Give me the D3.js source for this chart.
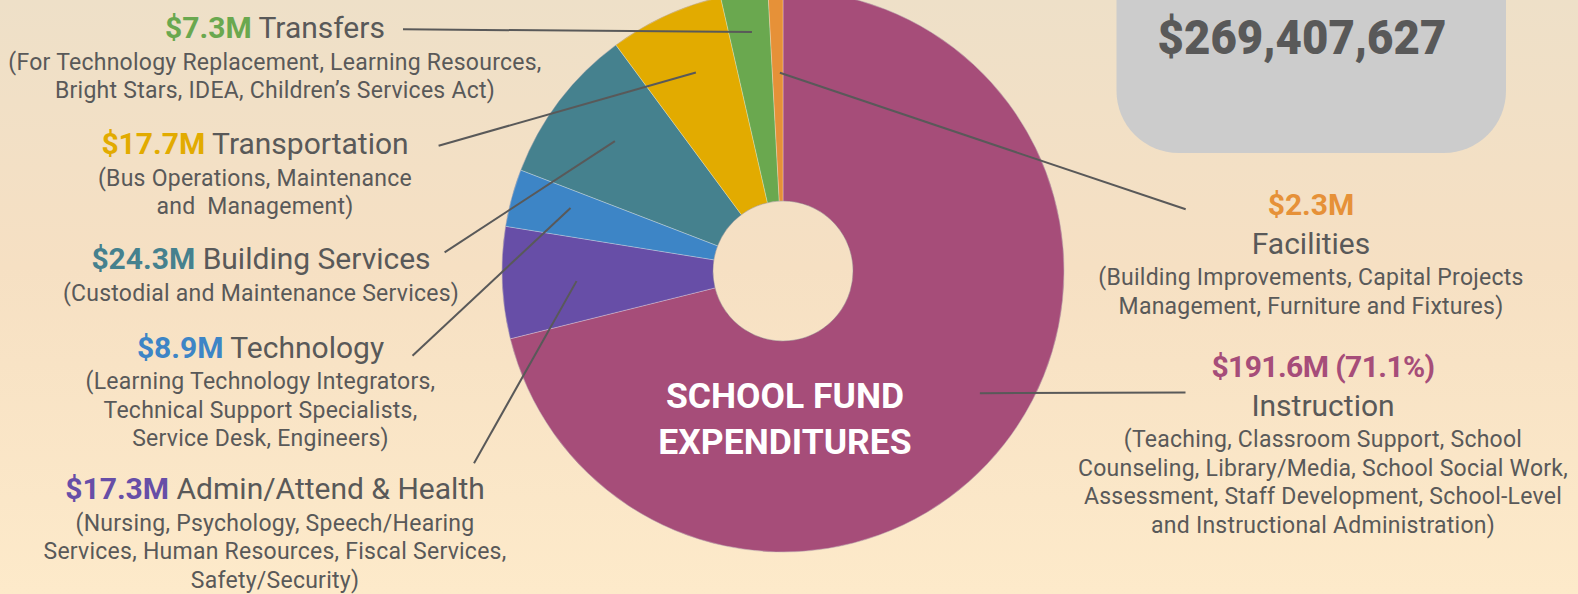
<!DOCTYPE html>
<html>
<head>
<meta charset="utf-8">
<script src="https://cdn.jsdelivr.net/npm/d3@7"></script>
<style>
  html, body { margin: 0; padding: 0; overflow: hidden; background: #f5e2c6; }
  svg { display: block; font-family: Roboto, "Noto Sans", sans-serif; }
  text { white-space: pre; }
</style>
</head>
<body>
<svg id="chart" width="1578" height="594"></svg>
<script>
// ---- School fund expenditures, in millions of dollars (pie order: clockwise from 12 o'clock)
const categories = [
  "Instruction",
  "Admin/Attend & Health",
  "Technology",
  "Building Services",
  "Transportation",
  "Transfers",
  "Facilities"
];
const amounts = [191.6, 17.3, 8.9, 24.3, 17.7, 7.3, 2.3];
const sliceColors = ["#a64d79", "#674ea7", "#3d85c6", "#45818e", "#e2ab00", "#6aa84f", "#e69138"];
const descriptions = [
  ["(Teaching, Classroom Support, School", "Counseling, Library/Media, School Social Work,", "Assessment, Staff Development, School-Level", "and Instructional Administration)"],
  ["(Nursing, Psychology, Speech/Hearing", "Services, Human Resources, Fiscal Services,", "Safety/Security)"],
  ["(Learning Technology Integrators,", "Technical Support Specialists,", "Service Desk, Engineers)"],
  ["(Custodial and Maintenance Services)"],
  ["(Bus Operations, Maintenance", "and  Management)"],
  ["(For Technology Replacement, Learning Resources,", "Bright Stars, IDEA, Children\u2019s Services Act)"],
  ["(Building Improvements, Capital Projects", "Management, Furniture and Fixtures)"]
];
const totalBudget = 269407627;
const centerTitle = ["SCHOOL FUND", "EXPENDITURES"];

// ---- Layout
const W = 1578, H = 594;
const cx = 783, cy = 271;
const outerR = 281, innerR = 70;
const ink = "#595959";

// label block placement, leader anchor near the text, and leader end inside the slice
const labelLayout = [
  { side: "right", x: 1323, y: 377,   anchor: [1185.5, 392.5], leaderR: 231.7, shiftDeg: -6.2, pct: true },
  { side: "left",  x: 275,  y: 499.3, anchor: [474, 463.3],    leaderR: 206.7, shiftDeg: -0.4 },
  { side: "left",  x: 260.5,y: 357.7, anchor: [412.5, 355.7],  leaderR: 221.6, shiftDeg: 1.4 },
  { side: "left",  x: 261,  y: 269,   anchor: [444.6, 252.3],  leaderR: 212.4, shiftDeg: 0.4 },
  { side: "left",  x: 255,  y: 154,   anchor: [438.6, 145.7],  leaderR: 216.7, shiftDeg: 0.95 },
  { side: "left",  x: 275,  y: 38.3,  anchor: [403, 29.3],     leaderR: 241,   shiftDeg: 0.55 },
  { side: "right", x: 1311, y: 215,   anchor: [1185.7, 209.3], leaderR: 198.3, shiftDeg: 0.64 }
];

const svg = d3.select("#chart");

// background gradient
const defs = svg.append("defs");
const bg = defs.append("linearGradient").attr("id", "bg").attr("x1", 0).attr("y1", 0).attr("x2", 0).attr("y2", 1);
bg.append("stop").attr("offset", "0%").attr("stop-color", "#eee0c8");
bg.append("stop").attr("offset", "45%").attr("stop-color", "#f6e0c3");
bg.append("stop").attr("offset", "100%").attr("stop-color", "#fdeaca");
svg.append("rect").attr("width", W).attr("height", H).attr("fill", "url(#bg)");

// total budget panel
svg.append("rect")
  .attr("x", 1116.5).attr("y", -90).attr("width", 389.5).attr("height", 243)
  .attr("rx", 62).attr("ry", 62)
  .attr("fill", "#cccccc");
svg.append("text")
  .attr("transform", "translate(1302,53.5) scale(0.95,1)")
  .attr("text-anchor", "middle")
  .attr("font-size", 48).attr("font-weight", 900)
  .attr("fill", ink)
  .text(d3.format("$,")(totalBudget));

// donut
const data = categories.map((c, i) => ({ name: c, value: amounts[i], color: sliceColors[i], desc: descriptions[i], lay: labelLayout[i] }));
const total = d3.sum(amounts);
const pie = d3.pie().sort(null).value(d => d.value).startAngle(0).endAngle(2 * Math.PI);
const arcs = pie(data);
const arc = d3.arc().innerRadius(innerR).outerRadius(outerR);

const g = svg.append("g").attr("transform", `translate(${cx},${cy})`);
g.selectAll("path.slice")
  .data(arcs)
  .join("path")
  .attr("class", "slice")
  .attr("d", arc)
  .attr("fill", d => d.data.color)
  .attr("stroke", "rgba(255,255,255,0.35)")
  .attr("stroke-width", 0.8);

// soft edge around the hole and the rim
g.append("circle").attr("r", innerR).attr("fill", "none").attr("stroke", "rgba(110,100,100,0.45)").attr("stroke-width", 0.8);
g.append("circle").attr("r", outerR).attr("fill", "none").attr("stroke", "rgba(130,110,120,0.35)").attr("stroke-width", 0.8);

// centre title
g.selectAll("text.title")
  .data(centerTitle)
  .join("text")
  .attr("class", "title")
  .attr("x", 2)
  .attr("y", (d, i) => 137 + i * 46)
  .attr("text-anchor", "middle")
  .attr("font-size", 35.5).attr("font-weight", 700)
  .attr("fill", "#ffffff")
  .text(d => d);

// leader lines
const leaderEnd = d => {
  const a = (d.startAngle + d.endAngle) / 2 + d.data.lay.shiftDeg * Math.PI / 180;
  const r = d.data.lay.leaderR;
  return [cx + r * Math.sin(a), cy - r * Math.cos(a)];
};
svg.append("g").selectAll("line")
  .data(arcs)
  .join("line")
  .attr("x1", d => d.data.lay.anchor[0])
  .attr("y1", d => d.data.lay.anchor[1])
  .attr("x2", d => leaderEnd(d)[0])
  .attr("y2", d => leaderEnd(d)[1])
  .attr("stroke", ink)
  .attr("stroke-width", 2);

// labels
const fmtM = v => `$${v}M`;
const fmtPct = d3.format(".1%");
const headSize = 30, subSize = 23, subGap = 28.5;

arcs.forEach(d => {
  const L = d.data.lay;
  const grp = svg.append("g").attr("class", "label");
  let subStart;
  if (L.side === "left") {
    const t = grp.append("text").attr("x", L.x).attr("y", L.y).attr("text-anchor", "middle").attr("font-size", headSize);
    t.append("tspan").attr("font-weight", 700).attr("fill", d.data.color).text(fmtM(d.data.value));
    t.append("tspan").attr("fill", ink).text(" " + d.data.name);
    subStart = L.y + 31.5;
  } else {
    const valueText = fmtM(d.data.value) + (L.pct ? ` (${fmtPct(d.data.value / total)})` : "");
    grp.append("text").attr("x", L.x).attr("y", L.y).attr("text-anchor", "middle")
      .attr("font-size", headSize).attr("font-weight", 700).attr("letter-spacing", L.pct ? -0.6 : 0)
      .attr("fill", d.data.color).text(valueText);
    grp.append("text").attr("x", L.x).attr("y", L.y + 38.5).attr("text-anchor", "middle")
      .attr("font-size", headSize).attr("fill", ink).text(d.data.name);
    subStart = L.y + 38.5 + 31.5;
  }
  grp.selectAll("text.sub")
    .data(d.data.desc)
    .join("text")
    .attr("class", "sub")
    .attr("x", L.x)
    .attr("y", (s, i) => subStart + i * subGap)
    .attr("text-anchor", "middle")
    .attr("font-size", subSize)
    .attr("letter-spacing", 0.25)
    .attr("fill", ink)
    .text(s => s);
});
</script>
</body>
</html>
